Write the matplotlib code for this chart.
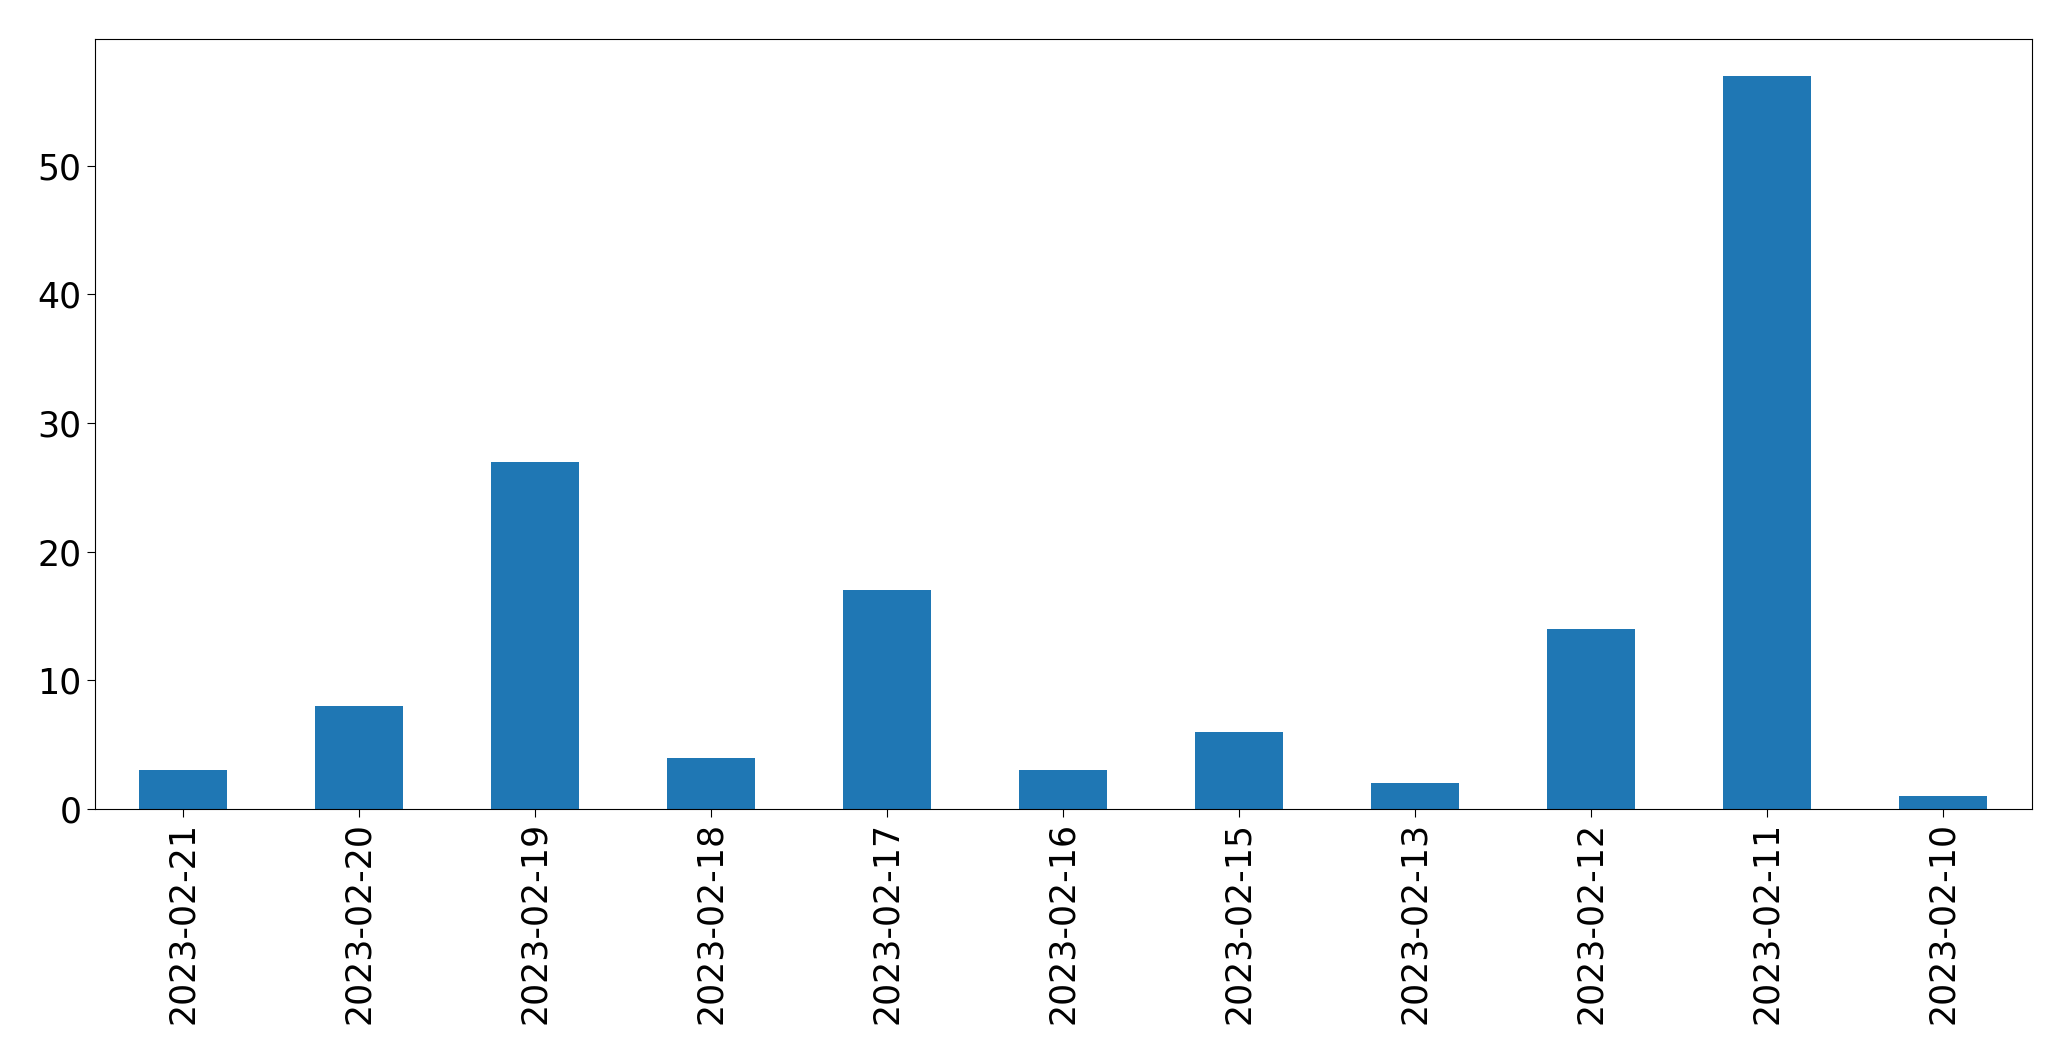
import matplotlib
matplotlib.use("Agg")
import matplotlib.pyplot as plt
import numpy as np

dates = ["2023-02-21", "2023-02-20", "2023-02-19", "2023-02-18", "2023-02-17",
         "2023-02-16", "2023-02-15", "2023-02-13", "2023-02-12", "2023-02-11",
         "2023-02-10"]
counts = [3, 8, 27, 4, 17, 3, 6, 2, 14, 57, 1]

fig = plt.figure(figsize=(20.71, 10.61), dpi=100)
ax = fig.add_axes([94.5 / 2071, 1 - 809 / 1061, (2031.5 - 94.5) / 2071, (809 - 39) / 1061])

x = np.arange(len(dates))
ax.bar(x, counts, width=0.5, color="#1f77b4")
ax.set_xlim(-0.5, len(dates) - 0.5)
ax.set_ylim(0, max(counts) * 1.05)
ax.set_xticks(x)
ax.set_xticklabels(dates, rotation=90)
ax.tick_params(axis="both", labelsize=25, length=6)

fig.savefig("out.png", dpi=100)
